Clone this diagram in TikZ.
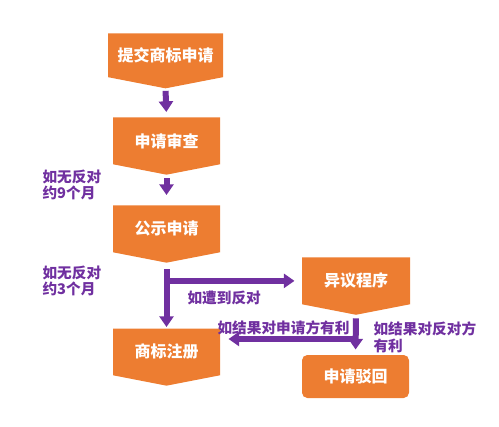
\documentclass[tikz,border=0pt]{standalone}
\usepackage{fontspec}
\setmainfont{Noto Sans CJK SC}
\usetikzlibrary{shapes.symbols,arrows.meta}
\definecolor{boxorange}{RGB}{237,125,49}
\definecolor{flowpurple}{RGB}{112,48,160}
\tikzset{every picture/.style={line width=0.75pt}}
\tikzset{
  stage/.style={signal, signal to=south, signal from=nowhere, signal pointer angle=158,
    fill=boxorange, text=white, font=\fontsize{12}{14}\selectfont\bfseries,
    inner sep=0pt, minimum width=80.25pt, minimum height=39.75pt, anchor=north},
  endbox/.style={rectangle, rounded corners=4pt, fill=boxorange, text=white,
    font=\fontsize{12}{14}\selectfont\bfseries, inner sep=0pt,
    minimum width=80.25pt, minimum height=32.25pt},
  note/.style={text=flowpurple, font=\fontsize{11}{12.5}\selectfont\bfseries,
    inner sep=0pt, anchor=west, align=left},
  flow/.style={draw=flowpurple, line width=4.5pt, -{Triangle[width=10.5pt,length=8pt]}}
}

\begin{document}
\begin{tikzpicture}[x=0.75pt,y=0.75pt,yscale=-1,xscale=1]
\useasboundingbox (0,0) rectangle (499,427);

%Shape: Signal [id:tj]
\node (tj) [stage, minimum width=86.25pt] at (165.5,33) {提交商标申请};
%Shape: Signal [id:sc]
\node (sc) [stage] at (166.5,117) {申请审查};
%Shape: Signal [id:gs]
\node (gs) [stage] at (166.5,205) {公示申请};
%Shape: Signal [id:sb]
\node (sb) [stage] at (166.5,328) {商标注册};
%Shape: Signal [id:yy]
\node (yy) [stage, minimum width=81pt] at (356,257) {异议程序};
%Shape: Rounded Rect [id:bh]
\node (bh) [endbox] at (355.5,376.5) {申请驳回};

%Straight Lines [id:jg]
\coordinate (jg) at (356,339);
\draw [flow, shorten <=1.5pt, shorten >=3.75pt] (tj.south) -- (sc.north);
\draw [flow, shorten <=2.25pt, shorten >=7.5pt] (sc.south) -- (gs.north);
\draw [flow, shorten <=4.5pt, shorten >=0.75pt] (gs.south) -- (sb.north);
\draw [flow, shorten >=5.25pt] (gs.south |- yy.west) -- (yy.west);
\draw [flow, shorten <=2.25pt, shorten >=3.75pt] (yy.south) -- (bh.north);
\draw [flow, shorten >=6pt] (jg) -- (jg -| sb.east);

% Text Node
\node (n9) [note] at (42,185) {如无反对\\约9个月};
% Text Node
\node (n3) [note] at (42,281) {如无反对\\约3个月};
% Text Node
\node (zd) [note] at (187,298) {如遭到反对};
% Text Node
\node (sq) [note] at (217,328) {如结果对申请方有利};
% Text Node
\node (fd) [note] at (373,337) {如结果对反对方\\有利};

\end{tikzpicture}
\end{document}
